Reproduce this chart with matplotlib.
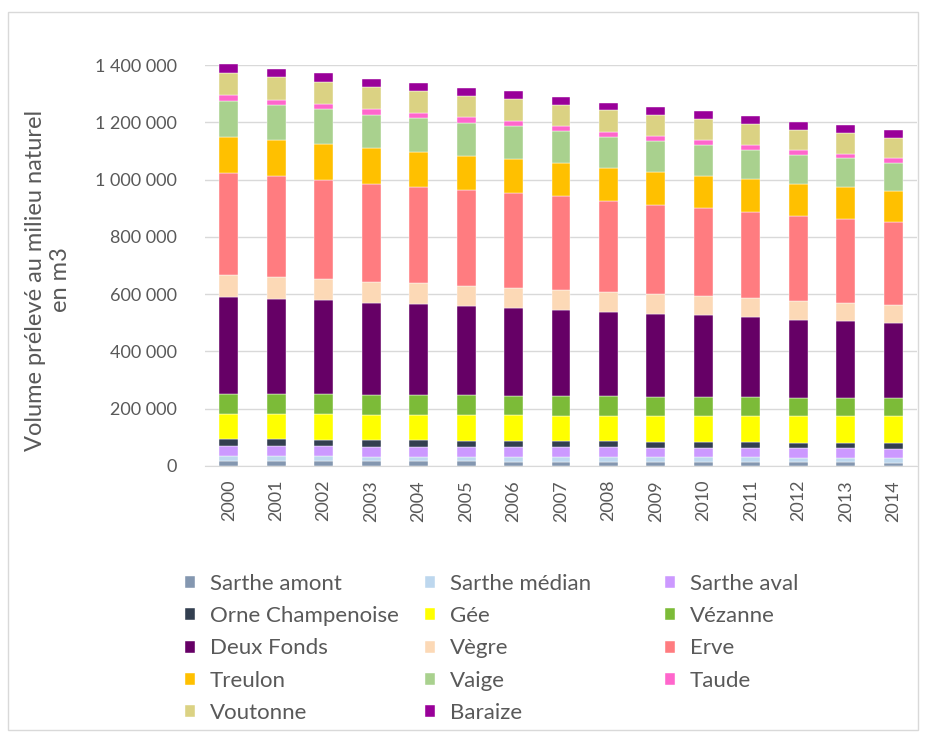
import matplotlib.pyplot as plt
import matplotlib.patches as mpatches
import numpy as np

plt.rcParams['font.family'] = ['Lato', 'DejaVu Sans']

years = [str(y) for y in range(2000, 2015)]

# volumes in thousands of m3
sarthe_amont = [17, 17, 17, 16, 16, 16, 15, 15, 15, 14, 14, 14, 13, 13, 12]
sarthe_median = [17, 17, 17, 17, 17, 17, 17, 16, 16, 16, 16, 16, 16, 16, 16]
sarthe_aval = [36, 36, 36, 35, 35, 35, 35, 34, 34, 34, 34, 34, 33, 33, 33]
orne = [24, 24, 22, 22, 22, 21, 21, 21, 21, 20, 21, 21, 20, 20, 20]
gee = [87, 87, 89, 89, 89, 90, 90, 90, 90, 91, 91, 91, 92, 92, 92]
vezanne = [70, 70, 70, 69, 69, 68, 68, 67, 67, 66, 66, 65, 64, 64, 63]
deux_fonds = [339, 333, 328, 322, 317, 311, 306, 301, 295, 290, 284, 279, 273, 268, 262]
vegre = [77, 76, 75, 74, 73, 72, 71, 70, 69, 68, 67, 66, 65, 64, 63]
erve = [356, 351, 346, 341, 337, 333, 330, 328, 317, 312, 307, 302, 297, 294, 291]
treulon = [127, 126, 125, 124, 122, 121, 120, 117, 117, 116, 114, 113, 111, 110, 108]
vaige = [124, 122, 120, 118, 117, 115, 113, 110, 108, 106, 105, 103, 101, 100, 98]
taude = [20, 20, 19, 19, 19, 18, 18, 17, 18, 18, 18, 18, 17, 17, 17]
voutonne = [79, 78, 78, 77, 77, 76, 76, 75, 75, 74, 74, 73, 72, 72, 71]
baraize = [29, 29, 29, 28, 28, 28, 28, 28, 27, 27, 27, 27, 26, 26, 26]

names = ['Sarthe amont', 'Sarthe médian', 'Sarthe aval', 'Orne Champenoise', 'Gée',
         'Vézanne', 'Deux Fonds', 'Vègre', 'Erve', 'Treulon', 'Vaige', 'Taude',
         'Voutonne', 'Baraize']
series = [sarthe_amont, sarthe_median, sarthe_aval, orne, gee, vezanne, deux_fonds,
          vegre, erve, treulon, vaige, taude, voutonne, baraize]
colors = ['#8497B0', '#BDD7EE', '#CC99FF', '#333F50', '#FFFF00', '#7CBB38', '#660066',
          '#FCD9B6', '#FF7C80', '#FFC000', '#A9D18E', '#FF66CC', '#DBD283', '#990099']

fig = plt.figure(figsize=(9.26, 7.38), dpi=100)
fig.patches.append(mpatches.Rectangle((8 / 926, 1 - 730 / 738), 910 / 926, 718 / 738,
                                      transform=fig.transFigure, fill=False,
                                      edgecolor='#D9D9D9', linewidth=1))
ax = fig.add_axes([205 / 926, 1 - 466 / 738, 712 / 926, 401 / 738])

x = np.arange(len(years))
bottom = np.zeros(len(years))
handles = []
for name, vals, c in zip(names, series, colors):
    v = np.array(vals) * 1000
    b = ax.bar(x, v, 0.4, bottom=bottom, color=c, label=name, clip_on=False,
               edgecolor='white', linewidth=0.3)
    handles.append(b)
    bottom += v

ax.set_xlim(-0.5, len(years) - 0.5)
ax.set_ylim(0, 1400000)
ticks = np.arange(0, 1400001, 200000)
ax.set_yticks(ticks)
ax.set_yticklabels(['{:,}'.format(t).replace(',', ' ') for t in ticks])
ax.set_xticks(x)
ax.set_xticklabels(years, rotation=90)
ax.tick_params(axis='both', length=0, labelsize=13, colors='#595959')
ax.tick_params(axis='y', pad=20)
ax.tick_params(axis='x', pad=10)
ax.grid(axis='y', color='#D9D9D9', linewidth=1)
ax.set_axisbelow(True)
for s in ['top', 'right', 'left']:
    ax.spines[s].set_visible(False)
ax.spines['bottom'].set_color('#D9D9D9')

fig.text(48 / 926, 1 - 280 / 738, 'Volume prélevé au milieu naturel\nen m3', rotation=90,
         ha='center', va='center', multialignment='center', fontsize=17, color='#595959')

cols = [[0, 3, 6, 9, 12], [1, 4, 7, 10, 13], [2, 5, 8, 11]]
xs = [185, 425, 665]
for idx, xp in zip(cols, xs):
    leg = fig.legend([handles[i] for i in idx], [names[i] for i in idx],
                     loc='upper left', bbox_to_anchor=(xp / 926, 1 - 574 / 738),
                     frameon=False, fontsize=16, labelspacing=0.55,
                     handlelength=0.45, handleheight=0.45, handletextpad=0.68,
                     borderaxespad=0, borderpad=0)
    for t in leg.get_texts():
        t.set_color('#595959')

fig.savefig('out.png', dpi=100)
